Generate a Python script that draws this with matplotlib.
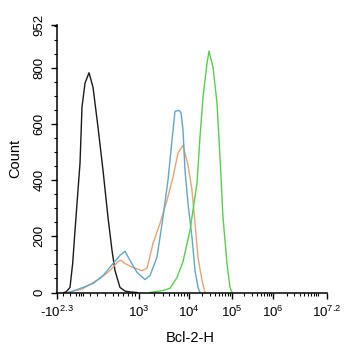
import numpy as np
import matplotlib
matplotlib.use('Agg')
import matplotlib.pyplot as plt
from matplotlib.ticker import FixedLocator

plt.rcParams['font.family'] = ['Liberation Sans', 'DejaVu Sans']
plt.rcParams['mathtext.fontset'] = 'custom'
plt.rcParams['mathtext.rm'] = 'Liberation Sans'
plt.rcParams['mathtext.it'] = 'Liberation Sans'

# channel units: 0 = -10^2.3, 1000 = 10^7.2 (biexponential display)
black_x = [25.9, 33.3, 48.1, 58.0, 66.7, 85.2, 92.6, 103.7, 118.5, 133.3, 151.9,
           170.4, 188.9, 203.7, 214.8, 233.3, 251.9, 270.4, 296.3]
black_y = [0, 2, 18, 103, 221, 460, 660, 745, 782, 731, 588,
           435, 267, 150, 78, 18, 5, 2, 0]

blue_x = [40.7, 48.1, 96.3, 133.3, 170.4, 207.4, 233.3, 251.9, 270.4, 296.3, 325.9,
          344.4, 370.4, 392.6, 411.1, 425.9, 437.0, 451.9, 459.3, 466.7, 474.1,
          485.2, 500.0, 511.1, 522.2, 529.6]
blue_y = [0, 1, 18, 32, 60, 103, 132, 147, 114, 72, 46,
          60, 126, 268, 400, 542, 645, 648, 640, 578, 435,
          317, 196, 78, 18, 0]

orange_x = [40.7, 96.3, 159.3, 196.3, 225.9, 237.0, 251.9, 281.5, 314.8, 333.3,
            355.6, 381.5, 407.4, 429.6, 448.1, 466.7, 485.2, 500.0, 511.1, 522.2,
            537.0, 548.1]
orange_y = [0, 14, 50, 78, 110, 115, 103, 89, 78, 86,
            175, 246, 328, 410, 496, 524, 453, 364, 246, 125,
            43, 0]

green_x = [344.4, 392.6, 418.5, 444.4, 466.7, 492.6, 518.5, 529.6, 540.7, 555.6,
           563.0, 577.8, 592.6, 603.7, 614.8, 629.6, 640.7, 648.1]
green_y = [0, 7, 15, 53, 110, 221, 389, 553, 695, 816,
           859, 802, 674, 481, 267, 103, 18, 0]

major_pos = [0, 303.7, 488.9, 648.1, 800, 1000]
major_labels = ['-$10^{2.3}$', '$10^{3}$', '$10^{4}$', '$10^{5}$', '$10^{6}$', '$10^{7.2}$']
low_minor = [22.2, 48.1, 70.4, 81.5, 88.9, 96.3, 122.2, 148.1, 177.8, 207.4,
             225.9, 244.4, 263.0, 277.8, 288.9]

minor_pos = list(low_minor)
for a, b in zip(major_pos[1:4], major_pos[2:5]):
    for k in range(2, 10):
        minor_pos.append(a + np.log10(k) * (b - a))
per_dec = (1000 - 800) / 1.2
for k in range(2, 11):
    minor_pos.append(800 + np.log10(k) * per_dec)

fig = plt.figure(figsize=(3.45, 3.5), dpi=100)
ax = fig.add_axes([57 / 345, (350 - 292.5) / 350, 270 / 345, 267.5 / 350])

lw = 1.0
ax.plot(black_x, black_y, color='#1a1a1a', lw=lw)
ax.plot(orange_x, orange_y, color='#e9a373', lw=lw)
ax.plot(blue_x, blue_y, color='#5fa8c8', lw=lw)
ax.plot(green_x, green_y, color='#55d04a', lw=lw)

ax.set_xlim(0, 1000)
ax.set_ylim(0, 952)
ax.spines['top'].set_visible(False)
ax.spines['right'].set_visible(False)
for s in ['left', 'bottom']:
    ax.spines[s].set_linewidth(1.1)

ax.xaxis.set_major_locator(FixedLocator(major_pos))
ax.set_xticklabels(major_labels, fontsize=9.5)
ax.xaxis.set_minor_locator(FixedLocator(minor_pos))

ax.yaxis.set_major_locator(FixedLocator([0, 200, 400, 600, 800, 952]))
ax.set_yticklabels(['0', '200', '400', '600', '800', '952'], fontsize=9.5,
                   rotation=90, va='center')
ax.yaxis.set_minor_locator(FixedLocator(np.arange(50, 952, 50)))

ax.tick_params(which='major', direction='out', length=4.5, width=1.0, pad=4)
ax.tick_params(which='minor', direction='out', length=2.5, width=0.8)
ax.tick_params(axis='y', which='major', pad=4)

ax.set_xlabel('Bcl-2-H', fontsize=10.5)
ax.set_ylabel('Count', fontsize=10.5)
ax.xaxis.set_label_coords(0.493, -0.145)
ax.yaxis.set_label_coords(-0.13, 0.5)

fig.savefig('out.png', dpi=100)
